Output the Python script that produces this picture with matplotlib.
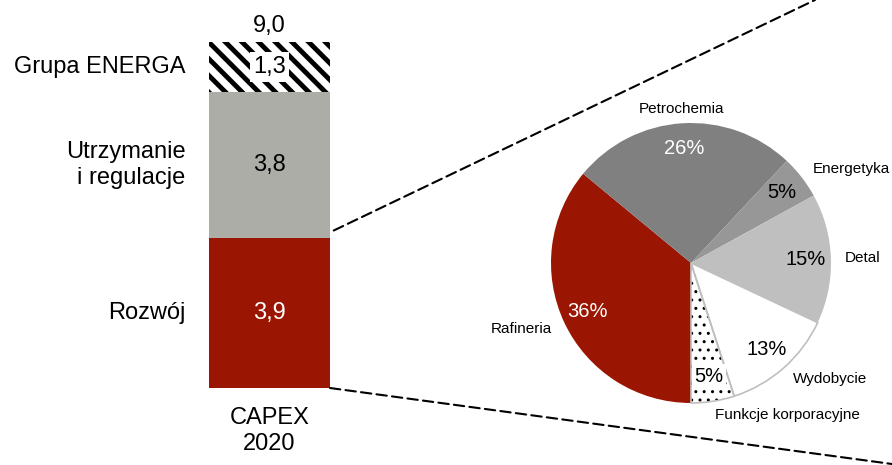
import matplotlib
matplotlib.use('Agg')
import matplotlib.pyplot as plt
from matplotlib import font_manager
from matplotlib.patches import ConnectionPatch

# CAPEX 2020 split (bn PLN)
bar_labels = ['Rozwój', 'Utrzymanie\ni regulacje', 'Grupa ENERGA']
bar_values = [3.9, 3.8, 1.3]
bar_title = 'CAPEX\n2020'

# breakdown of "Rozwój" by segment (%)
pie_labels = ['Rafineria', 'Petrochemia', 'Energetyka', 'Detal', 'Wydobycie', 'Funkcje korporacyjne']
pie_shares = [36, 26, 5, 15, 13, 5]

RED = '#9b1503'
bar_colors = [RED, '#adada8', 'white']
bar_hatches = [None, None, '\\\\']
bar_text_colors = ['white', 'black', 'black']
pie_colors = [RED, '#808080', '#979797', '#bfbfbf', 'white', 'white']
pie_text_colors = ['white', 'white', 'black', 'black', 'black', 'black']
pie_outline = ['none', 'none', 'none', 'none', '#bfbfbf', '#bfbfbf']


def fmt(v):
    return f'{v:.1f}'.replace('.', ',')


installed = {f.name for f in font_manager.fontManager.ttflist}
if 'Liberation Sans Narrow' in installed:
    big_font, big_size = 'Liberation Sans Narrow', 20
else:
    big_font, big_size = 'Liberation Sans', 17

plt.rcParams['font.family'] = ['Liberation Sans', 'DejaVu Sans']
plt.rcParams['hatch.linewidth'] = 3.5

W, H = 892, 465
fig = plt.figure(figsize=(W / 100, H / 100), dpi=100)

# stacked bar
ax_bar = fig.add_axes([209 / W, (H - 388) / H, 121 / W, 346 / H])
bottom = 0
for label, value, color, hatch, tcolor in zip(bar_labels, bar_values, bar_colors, bar_hatches, bar_text_colors):
    ax_bar.bar(0, value, width=1, bottom=bottom, color=color, hatch=hatch,
               edgecolor='black' if hatch else color, linewidth=0)
    mid = bottom + value / 2
    bbox = dict(facecolor='white', edgecolor='none', pad=2.5) if hatch else None
    ax_bar.text(0, mid, fmt(value), ha='center', va='center', color=tcolor,
                family=big_font, fontsize=big_size, bbox=bbox)
    ax_bar.annotate(label, xy=(-0.5, mid), xytext=(-17, 0), textcoords='offset points',
                    ha='right', va='center', multialignment='right',
                    family=big_font, fontsize=big_size)
    bottom += value
total = sum(bar_values)
ax_bar.annotate(fmt(total), xy=(0, total), xytext=(0, 7.5), textcoords='offset points',
                ha='center', va='baseline', family=big_font, fontsize=big_size)
ax_bar.annotate(bar_title, xy=(0, 0), xytext=(0, -14), textcoords='offset points',
                ha='center', va='top', family=big_font, fontsize=big_size)
ax_bar.set_xlim(-0.5, 0.5)
ax_bar.set_ylim(0, total)
ax_bar.axis('off')

# pie
ax_pie = fig.add_axes([551 / W, (H - 403) / H, 280 / W, 280 / H])
wedges, texts, autotexts = ax_pie.pie(
    pie_shares, labels=pie_labels, colors=pie_colors, startangle=-90, counterclock=False,
    labeldistance=1.1, pctdistance=0.82, autopct=lambda p: f'{p:.0f}%',
    textprops=dict(fontsize=11), wedgeprops=dict(linewidth=0))
for t, c in zip(autotexts, pie_text_colors):
    t.set_color(c)
    t.set_fontsize(14.5)
texts[1].set_ha('center')
wedges[5].set_hatch('..')
wedges[5].set_edgecolor('black')
wedges[5].set_linewidth(0)
if hasattr(wedges[5], 'set_hatch_linewidth'):
    wedges[5].set_hatch_linewidth(1.0)
autotexts[5].set_bbox(dict(facecolor='white', edgecolor='none', pad=2))

outlines = ax_pie.pie(pie_shares, startangle=-90, counterclock=False,
                      wedgeprops=dict(fill=False, linewidth=1.2))[0]
for w, ec in zip(outlines, pie_outline):
    w.set_edgecolor(ec)
ax_pie.set_xlim(-1, 1)
ax_pie.set_ylim(-1, 1)

# dashed zoom lines from the "Rozwój" segment to the pie
dash = dict(linestyle=(0, (5, 2.5)), linewidth=1.5, color='black')
lift = 0.15
for ya, end, shrink in [(bar_values[0] + lift, (815 / W, 1.0), 3), (0, (1.0, 1 / H), 0)]:
    con = ConnectionPatch(xyA=(0.5, ya), coordsA=ax_bar.transData,
                          xyB=end, coordsB=fig.transFigure, shrinkA=shrink, **dash)
    fig.add_artist(con)

fig.savefig('out.png', dpi=100)
